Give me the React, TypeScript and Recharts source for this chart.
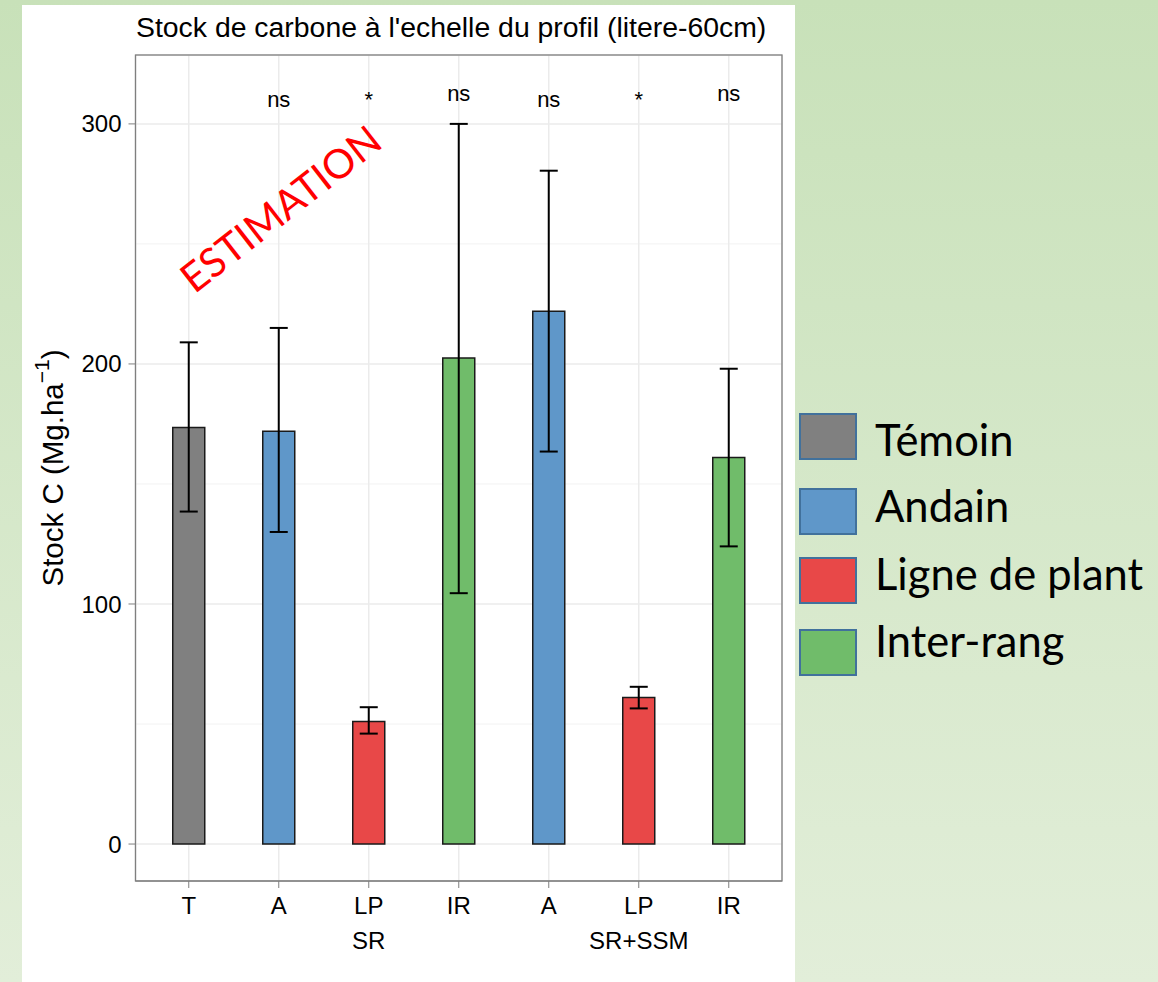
import React from "react";
import {
  ComposedChart,
  Bar,
  Cell,
  ErrorBar,
  Scatter,
  XAxis,
  YAxis,
  CartesianGrid,
} from "recharts";

// one entry per bar, left to right
const categories = ["T", "A", "LP", "IR", "A", "LP", "IR"];
const subLabels = ["", "", "SR", "", "", "SR+SSM", ""];
const treatments = ["Témoin", "Andain", "Ligne de plant", "Inter-rang", "Andain", "Ligne de plant", "Inter-rang"];
const stockC = [173.5, 172, 51, 202.5, 222, 61, 161];
const errLow = [138.5, 130, 46, 104.5, 163.5, 56.5, 124];
const errHigh = [209, 215, 57, 300, 280.5, 65.5, 198];
const sigText = ["", "ns", "*", "ns", "ns", "*", "ns"];
const sigPos = [null, 310, 310, 312.5, 310, 310, 312.5];

const legendNames = ["Témoin", "Andain", "Ligne de plant", "Inter-rang"];
const legendColors = ["#808080", "#5F97C9", "#E84848", "#70BC6A"];

const yTicks = [0, 100, 200, 300];
const yMinor = [50, 150, 250];
const yDomain = [-15.4, 328.7];

const ARIAL = "'Liberation Sans', Arial, sans-serif";
const CALIBRI = "Lato, 'Open Sans', sans-serif";

// chart box inside the white panel
const W = 773;
const H = 977;
const M = { top: 50, right: 13, bottom: 41, left: 33.5 };
const Y_W = 80;
const X_H = 60;

const data = categories.map((c, i) => ({
  id: String(i),
  value: stockC[i],
  err: [stockC[i] - errLow[i], errHigh[i] - stockC[i]],
  sig: sigText[i],
  sigY: sigPos[i],
  fill: legendColors[legendNames.indexOf(treatments[i])],
}));

function XTick(props: any) {
  const { x, y, payload } = props;
  const i = Number(payload.value);
  return (
    <g>
      <text x={x} y={y + 15} textAnchor="middle" dominantBaseline="central" fontSize={24} fontFamily={ARIAL} fill="#000">
        {categories[i]}
      </text>
      {subLabels[i] && (
        <text x={x} y={y + 50} textAnchor="middle" dominantBaseline="central" fontSize={24} fontFamily={ARIAL} fill="#000">
          {subLabels[i]}
        </text>
      )}
    </g>
  );
}

function YLabel(props: any) {
  const vb = props.viewBox || { x: M.left, y: M.top, height: H - M.top - M.bottom - X_H };
  const cx = vb.x - 3.5;
  const cy = vb.y + vb.height / 2;
  return (
    <text
      x={cx}
      y={cy}
      transform={`rotate(-90 ${cx} ${cy})`}
      textAnchor="middle"
      dominantBaseline="central"
      fontSize={29.5}
      fontFamily={ARIAL}
      fill="#000"
    >
      Stock C (Mg.ha
      <tspan fontSize={21} dy={-11}>−1</tspan>
      <tspan dy={11}>)</tspan>
    </text>
  );
}

function SigMark(props: any) {
  const { cx, cy, payload } = props;
  if (!Number.isFinite(cx) || !Number.isFinite(cy) || !payload.sig) return <g />;
  return (
    <text x={cx} y={cy} textAnchor="middle" dominantBaseline="central" fontSize={22} fontFamily={ARIAL} fill="#000">
      {payload.sig}
    </text>
  );
}

export default function App() {
  const plotX = 22 + M.left + Y_W;
  const plotY = 5 + M.top;
  const plotW = W - M.left - Y_W - M.right;
  const plotH = H - M.top - M.bottom - X_H;

  return (
    <div
      style={{
        position: "absolute",
        left: 0,
        top: 0,
        width: 1158,
        height: 982,
        overflow: "hidden",
        background: "linear-gradient(to bottom, #C8E1B9, #E2EED9)",
      }}
    >
      <div style={{ position: "absolute", left: 22, top: 5, width: W, height: H, background: "#fff" }}>
        <ComposedChart width={W} height={H} data={data} margin={M}>
          <CartesianGrid stroke="#F2F2F2" strokeWidth={1} vertical={false} horizontalValues={yMinor} />
          <CartesianGrid stroke="#EBEBEB" strokeWidth={1.5} />
          <XAxis
            dataKey="id"
            type="category"
            padding={{ left: 8.25, right: 8.25 }}
            height={X_H}
            tickSize={7}
            tick={<XTick />}
            stroke="#7F7F7F"
            interval={0}
          />
          <YAxis
            type="number"
            domain={yDomain}
            ticks={yTicks}
            width={Y_W}
            tickSize={7}
            tickMargin={7}
            stroke="#7F7F7F"
            tick={{ fill: "#000", fontSize: 24, fontFamily: ARIAL }}
            label={<YLabel />}
          />
          <Bar dataKey="value" barSize={32} stroke="#1A1A1A" strokeWidth={1.5} isAnimationActive={false}>
            {data.map((d) => (
              <Cell key={d.id} fill={d.fill} />
            ))}
            <ErrorBar dataKey="err" width={9} stroke="#000" strokeWidth={2} />
          </Bar>
          <Scatter dataKey="sigY" shape={<SigMark />} isAnimationActive={false} />
        </ComposedChart>
      </div>

      <svg width={1158} height={982} style={{ position: "absolute", left: 0, top: 0, pointerEvents: "none" }}>
        {/* panel border */}
        <rect x={plotX} y={plotY} width={plotW} height={plotH} fill="none" stroke="#7F7F7F" strokeWidth={1.3} />
        <text x={136} y={37} fontSize={28.4} fontFamily={ARIAL} fill="#000">
          Stock de carbone à l'echelle du profil (litere-60cm)
        </text>
        <text
          x={280}
          y={208}
          transform="rotate(-38 280 208)"
          textAnchor="middle"
          dominantBaseline="central"
          fontSize={40.5}
          fontFamily={CALIBRI}
          fill="#FF0000"
        >
          ESTIMATION
        </text>
        {legendNames.map((name, i) => {
          const top = [414, 489, 558, 630][i];
          return (
            <g key={name}>
              <rect x={800} y={top} width={56} height={45} fill={legendColors[i]} stroke="#41719C" strokeWidth={2} />
              <text x={875} y={[456, 522, 590, 657][i]} fontSize={43.5} fontFamily={CALIBRI} fill="#000">
                {name}
              </text>
            </g>
          );
        })}
      </svg>
    </div>
  );
}
